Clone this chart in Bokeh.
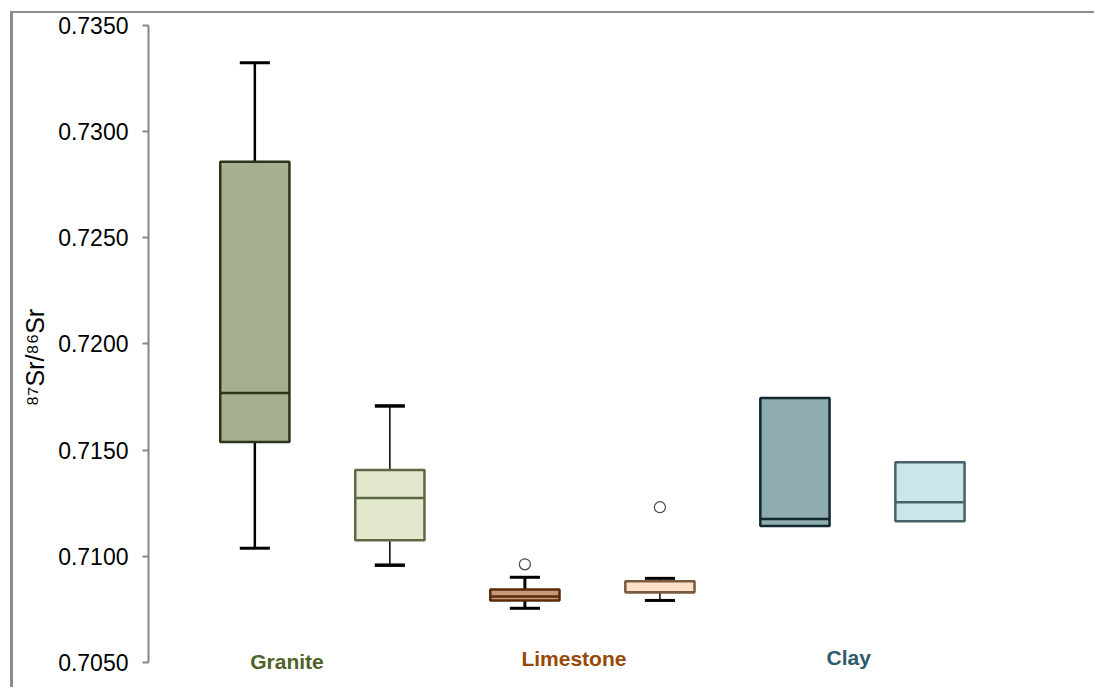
from bokeh.plotting import figure
from bokeh.models import Range1d, FixedTicker, PrintfTickFormatter, ColumnDataSource
from bokeh.core.properties import value
from bokeh.embed import file_html
from bokeh.resources import INLINE

# ---------------- data ----------------
series = ["Granite A", "Granite B", "Limestone A", "Limestone B", "Clay A", "Clay B"]
slot = [1, 2, 3, 4, 5, 6]
whisker_low = [0.71038, 0.70958, 0.70755, 0.70792, float("nan"), float("nan")]
q1 = [0.71538, 0.71075, 0.70792, 0.70830, 0.71142, 0.71165]
median = [0.71769, 0.71274, 0.70811, 0.70830, 0.71175, 0.71255]
q3 = [0.72858, 0.71406, 0.70844, 0.70882, 0.71745, 0.71443]
whisker_high = [0.73325, 0.71708, 0.70901, 0.70896, float("nan"), float("nan")]
outlier_slot = [3, 4]
outlier_value = [0.70962, 0.71231]
categories = ["Granite", "Limestone", "Clay"]
y_ticks = [0.7050, 0.7100, 0.7150, 0.7200, 0.7250, 0.7300, 0.7350]

# ---------------- styles ----------------
fills = ["#A7AF91", "#E1E8CC", "#C49A7A", "#FCE1C9", "#8FACB1", "#CBE5EC"]
edges = ["#2A3418", "#5E6845", "#5A2A08", "#7A5A40", "#10292E", "#46626A"]
stem_w = [2.5, 1.5, 3, 1.5, 0, 0]
cap_w = [3, 3.5, 3, 3, 0, 0]
cat_colors = ["#4F6228", "#984807", "#2C5A6B"]
cat_x = [1.238, 3.363, 5.398]
cat_y = [0.70505, 0.70518, 0.70521]

# geometry (pixels)
W, H = 1084, 676
BL, BT = 3, 2            # css border widths (border-box)
left_b, top_b = 135, 12
slot_px = 134.6
first_center_px = 106    # from frame left
px_per_unit_y = 635 / 0.03

frame_w = W - BL - left_b
frame_h = H - BT - top_b
x0 = 1 - first_center_px / slot_px
x1 = x0 + frame_w / slot_px
y1 = 0.7350
y0 = y1 - frame_h / px_per_unit_y

p = figure(width=W, height=H, output_backend="svg", toolbar_location=None,
           x_range=Range1d(x0, x1), y_range=Range1d(y0, y1),
           min_border_left=left_b, min_border_top=top_b,
           min_border_right=0, min_border_bottom=0,
           margin=(11, 0, 0, 10),
           styles={"border-left": "3px solid #8C8C8C", "border-top": "2px solid #8C8C8C"})
p.xaxis.visible = False
p.xgrid.visible = False
p.ygrid.visible = False
p.outline_line_color = None
p.background_fill_color = "white"
p.border_fill_color = "white"

ax = p.yaxis[0]
ax.ticker = FixedTicker(ticks=y_ticks)
ax.bounds = (0.7050, 0.7350)
ax.formatter = PrintfTickFormatter(format="%.4f")
ax.axis_line_color = "#868686"
ax.axis_line_width = 2
ax.major_tick_line_color = "#868686"
ax.major_tick_line_width = 2
ax.major_tick_out = 6
ax.major_tick_in = 0
ax.minor_tick_line_color = None
ax.major_label_standoff = 14
ax.major_label_text_font = "Liberation Sans"
ax.major_label_text_font_size = "23px"
ax.major_label_text_color = "black"
ax.axis_label = "\u2078\u2077Sr/\u2078\u2076Sr"
ax.axis_label_text_font = "Liberation Sans"
ax.axis_label_text_font_size = "25px"
ax.axis_label_text_font_style = "normal"
ax.axis_label_text_color = "black"
ax.axis_label_standoff = 6

box_w = 69 / slot_px
cap_half = 15 / slot_px

src = ColumnDataSource(dict(
    x=slot, lo=whisker_low, q1=q1, med=median, q3=q3, hi=whisker_high,
    fill=fills, edge=edges, sw=stem_w, cw=cap_w,
    xl=[s - box_w / 2 for s in slot], xr=[s + box_w / 2 for s in slot],
    cl=[s - cap_half for s in slot], cr=[s + cap_half for s in slot],
))

# stems
p.segment(x0="x", y0="q3", x1="x", y1="hi", source=src, line_color="black", line_width="sw")
p.segment(x0="x", y0="q1", x1="x", y1="lo", source=src, line_color="black", line_width="sw")
# caps
p.segment(x0="cl", y0="hi", x1="cr", y1="hi", source=src, line_color="black", line_width="cw")
p.segment(x0="cl", y0="lo", x1="cr", y1="lo", source=src, line_color="black", line_width="cw")
# boxes
p.vbar(x="x", width=box_w, bottom="q1", top="q3", source=src,
       fill_color="fill", line_color="edge", line_width=2.5)
# medians
p.segment(x0="xl", y0="med", x1="xr", y1="med", source=src, line_color="edge", line_width=2.5)
# outliers
p.scatter(outlier_slot, outlier_value, marker="circle", size=11,
          fill_color="white", line_color="#444444", line_width=1.2)

# category labels
p.text(x=cat_x, y=cat_y, text=categories,
       text_color=cat_colors, text_font=value("Liberation Sans"),
       text_font_style="bold", text_font_size="21px",
       text_align="center", text_baseline="middle")

open("out.html", "w").write(file_html(p, INLINE))
